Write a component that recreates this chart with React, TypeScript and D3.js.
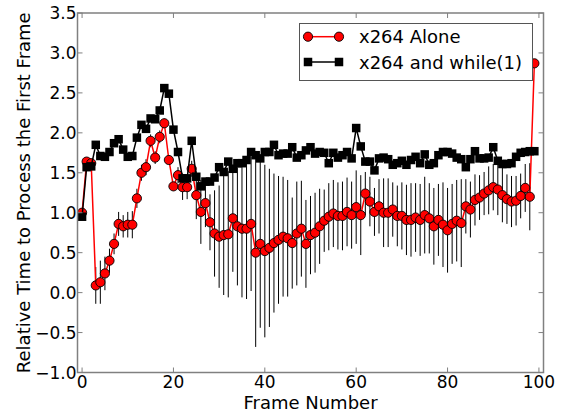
import React from 'react';
import * as d3 from 'd3';

const aloneMean = [
  1.00, 1.64, 1.62, 0.09, 0.13, 0.24, 0.40, 0.61, 0.86, 0.83,
  0.85, 0.85, 1.18, 1.50, 1.57, 1.90, 1.69, 1.95, 2.12, 1.66,
  1.33, 1.47, 1.32, 1.32, 1.55, 1.22, 1.01, 1.12, 0.88, 0.74,
  0.70, 0.72, 0.73, 0.93, 0.83, 0.80, 0.80, 0.86, 0.50, 0.61,
  0.52, 0.56, 0.62, 0.66, 0.70, 0.68, 0.62, 0.74, 0.80, 0.61,
  0.72, 0.75, 0.83, 0.90, 0.95, 0.99, 0.96, 0.96, 1.01, 0.97,
  1.07, 0.97, 1.24, 1.14, 1.01, 1.08, 1.00, 1.00, 1.04, 0.96,
  0.96, 0.91, 0.91, 0.94, 0.91, 0.97, 0.93, 0.83, 0.91, 0.85,
  0.78, 0.86, 0.90, 0.87, 1.08, 1.04, 1.16, 1.19, 1.24, 1.28,
  1.32, 1.29, 1.22, 1.17, 1.14, 1.15, 1.21, 1.31, 1.20, 2.87,
];

const aloneErr = [
  0.03, 0.03, 0.03, 0.23, 0.27, 0.21, 0.15, 0.13, 0.15, 0.14,
  0.16, 0.17, 0.12, 0.10, 0.10, 0.08, 0.08, 0.08, 0.06, 0.05,
  0.05, 0.10, 0.16, 0.15, 0.10, 0.30, 0.40, 0.30, 0.35, 0.54,
  0.64, 0.75, 0.79, 0.67, 0.74, 0.86, 0.88, 0.84, 1.18, 1.05,
  1.08, 0.99, 0.87, 0.80, 0.75, 0.73, 0.57, 0.65, 0.60, 0.55,
  0.49, 0.50, 0.47, 0.39, 0.42, 0.42, 0.42, 0.43, 0.43, 0.42,
  0.46, 0.50, 0.27, 0.31, 0.30, 0.34, 0.43, 0.43, 0.34, 0.38,
  0.42, 0.44, 0.46, 0.43, 0.45, 0.48, 0.44, 0.48, 0.45, 0.53,
  0.53, 0.50, 0.51, 0.55, 0.34, 0.35, 0.32, 0.28, 0.27, 0.30,
  0.29, 0.32, 0.34, 0.31, 0.32, 0.31, 0.28, 0.30, 0.42, 0.00,
];

const whileMean = [
  0.95, 1.57, 1.58, 1.85, 1.71, 1.70, 1.76, 1.87, 1.92, 1.79,
  1.70, 1.71, 1.94, 2.10, 2.05, 2.18, 2.17, 2.28, 2.56, 2.49,
  2.04, 1.76, 1.43, 1.43, 1.90, 1.45, 1.33, 1.39, 1.39, 1.44,
  1.57, 1.51, 1.64, 1.55, 1.62, 1.62, 1.66, 1.76, 1.72, 1.68,
  1.76, 1.76, 1.85, 1.72, 1.74, 1.74, 1.82, 1.69, 1.72, 1.78,
  1.82, 1.74, 1.76, 1.75, 1.62, 1.75, 1.69, 1.72, 1.76, 1.68,
  2.06, 1.83, 1.64, 1.64, 1.53, 1.68, 1.69, 1.67, 1.60, 1.62,
  1.65, 1.60, 1.66, 1.70, 1.62, 1.73, 1.60, 1.62, 1.72, 1.76,
  1.76, 1.74, 1.69, 1.67, 1.57, 1.67, 1.77, 1.68, 1.68, 1.69,
  1.82, 1.65, 1.61, 1.61, 1.62, 1.70, 1.75, 1.76, 1.77, 1.77,
];

const frames = aloneMean.map((_, i) => i);
const xTicks = [0, 20, 40, 60, 80, 100];
const yTicks = [-1.0, -0.5, 0.0, 0.5, 1.0, 1.5, 2.0, 2.5, 3.0, 3.5];
const seriesNames = ['x264 Alone', 'x264 and while(1)'];
const xLabel = 'Frame Number';
const yLabel = 'Relative Time to Process the First Frame';

const W = 561;
const H = 413;
const M = { left: 77.5, right: 543.5, top: 13, bottom: 372.5 };
const FONT = 'DejaVu Sans, sans-serif';
const SPINE = '#808080';

export default function App() {
  const x = d3.scaleLinear().domain([-1, 101]).range([M.left, M.right]);
  const y = d3.scaleLinear().domain([-1, 3.5]).range([M.bottom, M.top]);

  const line = d3
    .line<number>()
    .x((_, i) => x(frames[i]))
    .y((d) => y(d));

  const fmt = (v: number) => (v < 0 ? '\u2212' + Math.abs(v).toFixed(1) : v.toFixed(1));
  const tickLen = 5;
  const sq = 8.5;
  const r = 4.6;

  const legX = 299.5;
  const legY = 23.5;
  const legW = 233;
  const legH = 57;
  const rows = [36.7, 62];

  return (
    <svg
      width={W}
      height={H}
      style={{ position: 'absolute', left: 0, top: 0, background: '#fff' }}
      fontFamily={FONT}
    >
      <rect x={0} y={0} width={W} height={H} fill="#fff" />
      {/* error bars */}
      <g stroke="#000" strokeWidth={1}>
        {frames.map((f, i) =>
          aloneErr[i] > 0 ? (
            <line
              key={'e' + i}
              x1={x(f)}
              x2={x(f)}
              y1={y(aloneMean[i] - aloneErr[i])}
              y2={y(aloneMean[i] + aloneErr[i])}
            />
          ) : null
        )}
      </g>
      {/* alone series */}
      <path d={line(aloneMean) || ''} fill="none" stroke="#ff0000" strokeWidth={1.5} />
      <g fill="#ff0000" stroke="#000" strokeWidth={0.9}>
        {frames.map((f, i) => (
          <circle key={'c' + i} cx={x(f)} cy={y(aloneMean[i])} r={r} />
        ))}
      </g>
      {/* while series */}
      <path d={line(whileMean) || ''} fill="none" stroke="#000" strokeWidth={1.5} />
      <g fill="#000">
        {frames.map((f, i) => (
          <rect key={'s' + i} x={x(f) - sq / 2} y={y(whileMean[i]) - sq / 2} width={sq} height={sq} />
        ))}
      </g>

      {/* frame */}
      <rect
        x={M.left}
        y={M.top}
        width={M.right - M.left}
        height={M.bottom - M.top}
        fill="none"
        stroke={SPINE}
        strokeWidth={1.5}
      />
      {/* ticks */}
      <g stroke={SPINE} strokeWidth={1}>
        {xTicks.map((t) => (
          <g key={'xt' + t}>
            <line x1={x(t)} x2={x(t)} y1={M.bottom} y2={M.bottom - tickLen} />
            <line x1={x(t)} x2={x(t)} y1={M.top} y2={M.top + tickLen} />
          </g>
        ))}
        {yTicks.map((t) => (
          <g key={'yt' + t}>
            <line x1={M.left} x2={M.left + tickLen} y1={y(t)} y2={y(t)} />
            <line x1={M.right} x2={M.right - tickLen} y1={y(t)} y2={y(t)} />
          </g>
        ))}
      </g>
      {/* tick labels */}
      <g fontSize={17} fill="#000">
        {xTicks.map((t) => (
          <text key={'xl' + t} x={x(t)} y={387.5} textAnchor="middle">
            {t}
          </text>
        ))}
        {yTicks.map((t) => (
          <text key={'yl' + t} x={76.5} y={y(t) + 6} textAnchor="end">
            {fmt(t)}
          </text>
        ))}
      </g>
      {/* axis labels */}
      <text x={(M.left + M.right) / 2} y={409} textAnchor="middle" fontSize={18}>
        {xLabel}
      </text>
      <text
        transform={`translate(30, ${(M.top + M.bottom) / 2}) rotate(-90)`}
        textAnchor="middle"
        fontSize={18}
      >
        {yLabel}
      </text>

      {/* legend */}
      <rect x={legX} y={legY} width={legW} height={legH} fill="#fff" stroke="#555" strokeWidth={1} />
      <g>
        <line x1={308} x2={339} y1={rows[0]} y2={rows[0]} stroke="#ff0000" strokeWidth={1.5} />
        <circle cx={308} cy={rows[0]} r={r} fill="#ff0000" stroke="#000" strokeWidth={0.9} />
        <circle cx={339} cy={rows[0]} r={r} fill="#ff0000" stroke="#000" strokeWidth={0.9} />
        <text x={359} y={rows[0] + 6.5} fontSize={18}>
          {seriesNames[0]}
        </text>
        <line x1={308} x2={339} y1={rows[1]} y2={rows[1]} stroke="#000" strokeWidth={1.5} />
        <rect x={308 - sq / 2} y={rows[1] - sq / 2} width={sq} height={sq} fill="#000" />
        <rect x={339 - sq / 2} y={rows[1] - sq / 2} width={sq} height={sq} fill="#000" />
        <text x={359} y={rows[1] + 6.5} fontSize={18}>
          {seriesNames[1]}
        </text>
      </g>
    </svg>
  );
}
